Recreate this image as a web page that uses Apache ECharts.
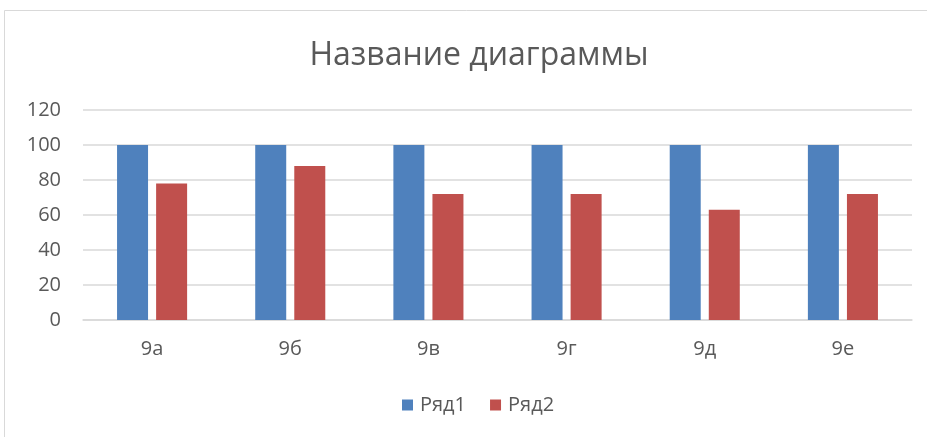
<!DOCTYPE html>
<html><head><meta charset="utf-8">
<script src="https://cdn.jsdelivr.net/npm/echarts@6/dist/echarts.min.js"></script>
<style>html,body{margin:0;padding:0;background:#fff}#c{width:927px;height:437px}</style>
</head><body><div id="c"></div>
<script>
const categories = ['9а','9б','9в','9г','9д','9е'];
const series1 = [100,100,100,100,100,100];
const series2 = [78,88,72,72,63,72];
const yTicks = [0,20,40,60,80,100,120];

const chart = echarts.init(document.getElementById('c'));
const font = '"Open Sans", "Noto Sans", sans-serif';
chart.setOption({
  animation:false,
  backgroundColor:'#fff',
  graphic:[{type:'rect',shape:{x:4.5,y:10.5,width:940,height:440},style:{fill:'none',stroke:'#d9d9d9',lineWidth:1},silent:true}],
  title:{text:'Название диаграммы',left:474,top:35,textAlign:'center',
    textStyle:{fontFamily:font,fontSize:32,fontWeight:'normal',color:'#595959'}},
  legend:{bottom:17,left:397,itemWidth:11,itemHeight:11,itemGap:24,icon:'rect',
    textStyle:{fontFamily:font,fontSize:20,color:'#595959',padding:[0,0,0,2]},data:['Ряд1','Ряд2']},
  grid:{left:83,right:15,top:110,bottom:117,containLabel:false},
  xAxis:{type:'category',data:categories,
    axisLine:{lineStyle:{color:'#d9d9d9',width:1.5}},axisTick:{show:false},
    axisLabel:{fontFamily:font,fontSize:20,color:'#595959',margin:19}},
  yAxis:{type:'value',min:yTicks[0],max:yTicks[yTicks.length-1],interval:20,
    axisLine:{show:false},axisTick:{show:false},
    splitLine:{lineStyle:{color:'#d9d9d9',width:1.5}},
    axisLabel:{fontFamily:font,fontSize:20,color:'#595959',margin:22}},
  series:[
    {name:'Ряд1',type:'bar',data:series1,barWidth:31,barGap:'26%',itemStyle:{color:'#4f81bd'}},
    {name:'Ряд2',type:'bar',data:series2,barWidth:31,itemStyle:{color:'#c0504d'}}
  ]
});
</script></body></html>
